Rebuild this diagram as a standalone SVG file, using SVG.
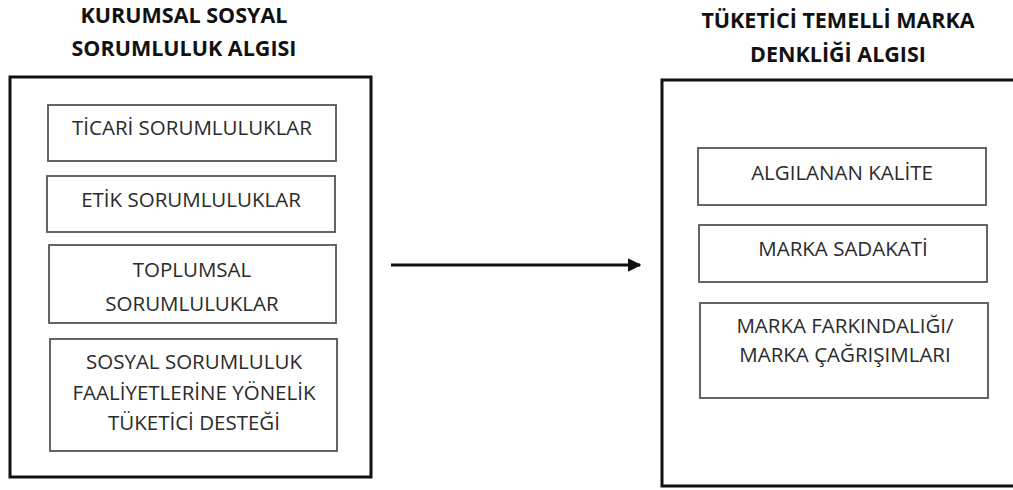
<svg xmlns="http://www.w3.org/2000/svg" width="1013" height="490" viewBox="0 0 1013 490">
<defs>
<style>
.outer{fill:#fff;stroke:#111;stroke-width:3}
.inner{fill:#fff;stroke:#555;stroke-width:1.8}
.title{font-family:"Open Sans","Liberation Sans",sans-serif;font-weight:bold;font-size:21.5px;fill:#111;text-anchor:middle}
.lbl{font-family:"Open Sans","Liberation Sans",sans-serif;font-size:20.5px;fill:#2a2a2a;text-anchor:middle}
.conn{stroke:#111;stroke-width:3;fill:none}
</style>
<marker id="arrow" viewBox="0 0 10 10" refX="9" refY="5" markerWidth="4.5" markerHeight="4.5" orient="auto" markerUnits="strokeWidth">
<path d="M0,0 L10,5 L0,10 Z" fill="#111"/>
</marker>
</defs>
<rect width="1013" height="490" fill="#fff"/>
<g id="left-title">
<text class="title" x="184" y="23">KURUMSAL SOSYAL</text>
<text class="title" x="184" y="56">SORUMLULUK ALGISI</text>
</g>
<g id="right-title">
<text class="title" x="838" y="28">TÜKETİCİ TEMELLİ MARKA</text>
<text class="title" x="838" y="62">DENKLİĞİ ALGISI</text>
</g>
<g id="left-group">
<rect class="outer" x="10" y="77" width="361" height="400"/>
</g>
<g id="right-group">
<rect class="outer" x="662" y="80" width="360" height="406"/>
</g>
<g id="n-ticari">
<rect class="inner" x="48" y="105" width="288" height="56"/>
<text class="lbl" x="192" y="135">TİCARİ SORUMLULUKLAR</text>
</g>
<g id="n-etik">
<rect class="inner" x="47" y="176" width="288" height="56"/>
<text class="lbl" x="191" y="207">ETİK SORUMLULUKLAR</text>
</g>
<g id="n-toplumsal">
<rect class="inner" x="49" y="245" width="287" height="78"/>
<text class="lbl" x="192" y="277">TOPLUMSAL</text>
<text class="lbl" x="192" y="311">SORUMLULUKLAR</text>
</g>
<g id="n-destek">
<rect class="inner" x="50" y="339" width="287" height="112"/>
<text class="lbl" x="194" y="369">SOSYAL SORUMLULUK</text>
<text class="lbl" x="194" y="400">FAALİYETLERİNE YÖNELİK</text>
<text class="lbl" x="194" y="430">TÜKETİCİ DESTEĞİ</text>
</g>
<g id="n-kalite">
<rect class="inner" x="698" y="148" width="288" height="57"/>
<text class="lbl" x="842" y="180">ALGILANAN KALİTE</text>
</g>
<g id="n-sadakat">
<rect class="inner" x="699" y="225" width="288" height="57"/>
<text class="lbl" x="843" y="256">MARKA SADAKATİ</text>
</g>
<g id="n-farkindalik">
<rect class="inner" x="700" y="303" width="288" height="95"/>
<text class="lbl" x="845" y="333">MARKA FARKINDALIĞI/</text>
<text class="lbl" x="845" y="362">MARKA ÇAĞRIŞIMLARI</text>
</g>
<g id="connectors">
<line class="conn" x1="391" y1="265" x2="640" y2="265" marker-end="url(#arrow)"/>
</g>
</svg>
